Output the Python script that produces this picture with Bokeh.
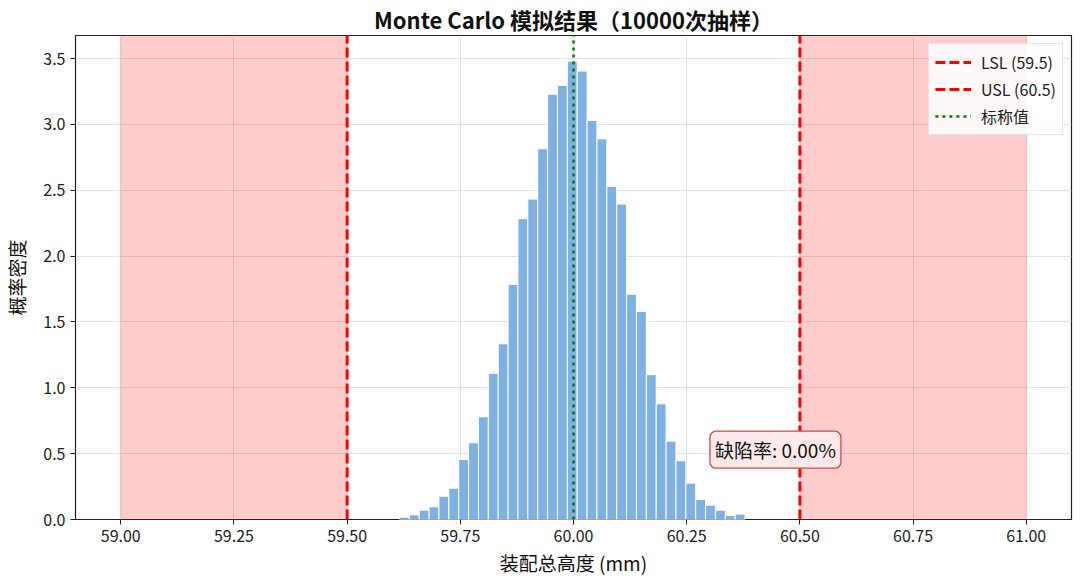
from bokeh.plotting import figure
from bokeh.models import (BoxAnnotation, Label, Legend, LegendItem, Range1d,
                          FixedTicker, NumeralTickFormatter, Title)
from bokeh.embed import file_html
from bokeh.resources import INLINE

# ---- data ----
bin_centers = [59.6265, 59.6483, 59.6701, 59.6919, 59.7137, 59.7356, 59.7574,
               59.7792, 59.8010, 59.8228, 59.8446, 59.8664, 59.8882, 59.9100,
               59.9318, 59.9537, 59.9755, 59.9973, 60.0191, 60.0409, 60.0627,
               60.0845, 60.1063, 60.1281, 60.1499, 60.1718, 60.1936, 60.2154,
               60.2372, 60.2590, 60.2808, 60.3026, 60.3244, 60.3462, 60.3680]
density = [0.018, 0.035, 0.071, 0.096, 0.177, 0.238, 0.456, 0.582, 0.780,
           1.110, 1.334, 1.785, 2.284, 2.433, 2.815, 3.228, 3.296, 3.480,
           3.405, 3.030, 2.890, 2.530, 2.395, 1.710, 1.580, 1.100, 0.878,
           0.595, 0.446, 0.276, 0.152, 0.109, 0.071, 0.030, 0.041]
bin_width = 0.0218
LSL = 59.5
USL = 60.5
nominal = 60.0
reject_zones = [(59.0, 59.5), (60.5, 61.0)]
defect_rate = 0.00
x_ticks = [59.0, 59.25, 59.5, 59.75, 60.0, 60.25, 60.5, 60.75, 61.0]
y_ticks = [0.0, 0.5, 1.0, 1.5, 2.0, 2.5, 3.0, 3.5]

FONT = "Noto Sans CJK SC"

p = figure(frame_width=996, frame_height=484, output_backend="svg",
           toolbar_location=None,
           x_range=Range1d(58.9, 61.1), y_range=Range1d(0, 3.675),
           min_border_left=74, min_border_right=10,
           min_border_top=34, min_border_bottom=69)
p.title = None
p.add_layout(Title(text="Monte Carlo 模拟结果（10000次抽样）", align="center",
                   text_font=FONT, text_font_size="22px", text_font_style="bold",
                   text_color="#111111", offset=0, standoff=1), "above")

p.background_fill_color = "white"
p.border_fill_color = "white"
p.outline_line_color = "#222222"
p.outline_line_width = 1.2

for g in (p.xgrid[0], p.ygrid[0]):
    g.grid_line_color = "#e3e3e3"
    g.grid_line_width = 1
p.xgrid[0].ticker = FixedTicker(ticks=x_ticks)
p.ygrid[0].ticker = FixedTicker(ticks=y_ticks)

for lo, hi in reject_zones:
    p.add_layout(BoxAnnotation(left=lo, right=hi, fill_color="#ff0000",
                               fill_alpha=0.2, line_color="#ff0000",
                               line_alpha=0.12, line_width=1, level="underlay"))

p.vbar(x=bin_centers, top=density, width=bin_width, bottom=0,
       fill_color="#7fb0e3", line_color="white", line_width=1)

ytop = 3.675
r_lsl = p.segment(x0=[LSL], y0=[0], x1=[LSL], y1=[ytop], line_color="#ff0000",
                  line_width=3, line_dash="10 4")
r_usl = p.segment(x0=[USL], y0=[0], x1=[USL], y1=[ytop], line_color="#ff0000",
                  line_width=3, line_dash="10 4")
r_nom = p.segment(x0=[nominal], y0=[0], x1=[nominal], y1=[ytop],
                  line_color="#008000", line_width=2.6, line_dash="3 4")

legend = Legend(items=[
    LegendItem(label=f"LSL ({LSL})", renderers=[r_lsl]),
    LegendItem(label=f"USL ({USL})", renderers=[r_usl]),
    LegendItem(label="标称值", renderers=[r_nom]),
], location="top_right", label_text_font=FONT, label_text_font_size="16px",
   label_text_color="#222222", glyph_width=36, glyph_height=22,
   label_height=22, spacing=3, padding=6, margin=8,
   border_line_color="#cccccc", border_line_width=1,
   background_fill_color="white", background_fill_alpha=0.85,
   label_standoff=10)
p.add_layout(legend, "center")

p.add_layout(Label(x=60.446, y=0.53, text=f"缺陷率: {defect_rate:.2f}%",
                   text_font=FONT, text_font_size="19px", text_color="#111111",
                   text_align="center", text_baseline="middle",
                   background_fill_color="#fde9e9", background_fill_alpha=1.0,
                   border_line_color="#d24a4a", border_line_width=1.3,
                   padding=5, border_radius=6))

p.xaxis.ticker = FixedTicker(ticks=x_ticks)
p.yaxis.ticker = FixedTicker(ticks=y_ticks)
p.xaxis.formatter = NumeralTickFormatter(format="0.00")
p.yaxis.formatter = NumeralTickFormatter(format="0.0")
p.xaxis.axis_label = "装配总高度 (mm)"
p.yaxis.axis_label = "概率密度"
for ax in (p.xaxis[0], p.yaxis[0]):
    ax.axis_label_text_font = FONT
    ax.axis_label_text_font_size = "19px"
    ax.axis_label_text_font_style = "normal"
    ax.axis_label_text_color = "#111111"
    ax.major_label_text_font = FONT
    ax.major_label_text_font_size = "16px"
    ax.major_label_text_color = "#222222"
    ax.axis_line_color = None
    ax.major_tick_line_color = "#222222"
    ax.major_tick_out = 5
    ax.major_tick_in = 0
    ax.minor_tick_line_color = None
    ax.major_label_standoff = 5
p.xaxis.axis_label_standoff = 4
p.yaxis.axis_label_standoff = 10

open("out.html", "w").write(file_html(p, INLINE))
